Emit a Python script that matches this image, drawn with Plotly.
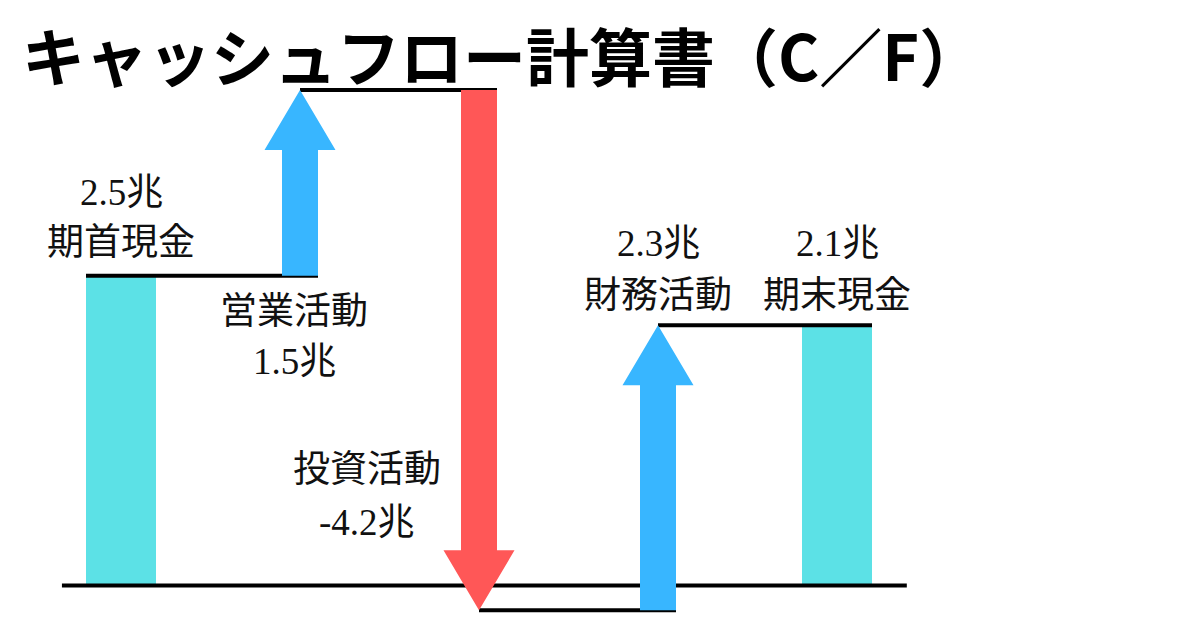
import plotly.graph_objects as go

# ---------------- data ----------------
steps = ["期首現金", "営業活動", "投資活動", "財務活動", "期末現金"]
values = [2.5, 1.5, -4.2, 2.3, 2.1]
kinds = ["total", "delta", "delta", "delta", "total"]
value_labels = ["2.5兆", "1.5兆", "-4.2兆", "2.3兆", "2.1兆"]
title_text = "キャッシュフロー計算書（C／F）"

# ---------------- styles ----------------
PX_X = 179.0      # px per category step (used to convert pixel sizes)
PX_Y = 123.9      # px per unit value
BAR_W = 70 / PX_X
SHAFT_HW = 18 / PX_X
HEAD_HW = 35.5 / PX_X
HEAD_LEN = 60 / PX_Y
C_TOTAL = "#5CE1E6"
C_UP = "#38B6FF"
C_DOWN = "#FF5757"
LINE_W = 4
LABEL_FONT = dict(family="Liberation Serif, Noto Sans CJK JP", size=37, color="#111111")

# compute start/end of each step
starts, ends = [], []
level = 0.0
for v, k in zip(values, kinds):
    if k == "total":
        s, e = 0.0, v
    else:
        s, e = level, level + v
    starts.append(s)
    ends.append(e)
    level = e

xs = list(range(len(steps)))
fig = go.Figure()

# baseline
fig.add_trace(go.Scatter(x=[xs[0] - 0.33, xs[-1] + 0.39], y=[0, 0], mode="lines",
                         line=dict(color="black", width=LINE_W), hoverinfo="skip"))

# connector lines
for i in range(len(steps) - 1):
    x0 = xs[i] - BAR_W / 2 if kinds[i] == "total" else xs[i]
    x1 = xs[i + 1] + (BAR_W / 2 if kinds[i + 1] == "total" else SHAFT_HW)
    fig.add_trace(go.Scatter(x=[x0, x1], y=[ends[i], ends[i]], mode="lines",
                             line=dict(color="black", width=LINE_W), hoverinfo="skip"))

# total bars
tot_idx = [i for i, k in enumerate(kinds) if k == "total"]
fig.add_trace(go.Bar(x=[xs[i] for i in tot_idx], y=[ends[i] - starts[i] for i in tot_idx],
                     base=[starts[i] for i in tot_idx], width=BAR_W,
                     marker=dict(color=C_TOTAL, line=dict(width=0)), hoverinfo="skip"))

# arrows
for i, k in enumerate(kinds):
    if k != "delta":
        continue
    c, a, b = xs[i], starts[i], ends[i]
    d = 1 if b > a else -1
    hb = b - d * HEAD_LEN
    px = [c - SHAFT_HW, c + SHAFT_HW, c + SHAFT_HW, c + HEAD_HW, c, c - HEAD_HW, c - SHAFT_HW, c - SHAFT_HW]
    py = [a, a, hb, hb, b, hb, hb, a]
    fig.add_trace(go.Scatter(x=px, y=py, mode="lines", fill="toself",
                             fillcolor=C_UP if d > 0 else C_DOWN,
                             line=dict(width=0, color=C_UP if d > 0 else C_DOWN),
                             hoverinfo="skip"))

# labels: (anchor level, x shift px, name y offset px down, value y offset px down)
label_pos = [
    (ends[0], 0, -33, -83),
    (starts[1], -6, 36, 86),
    (ends[2], -112, -141, -88),
    (ends[3], 0, -30, -82),
    (ends[4], 0, -30, -82),
]
for i, (lv, dx, dn, dv) in enumerate(label_pos):
    fig.add_annotation(x=xs[i], y=lv, xref="x", yref="y", text=steps[i], showarrow=False,
                       xshift=dx, yshift=-dn, font=LABEL_FONT, xanchor="center", yanchor="middle")
    fig.add_annotation(x=xs[i], y=lv, xref="x", yref="y", text=value_labels[i], showarrow=False,
                       xshift=dx, yshift=-dv, font=LABEL_FONT, xanchor="center", yanchor="middle")

# title
fig.add_annotation(x=20 / 1200, y=1 - 54 / 628, xref="paper", yref="paper", text=title_text,
                   showarrow=False, xanchor="left", yanchor="middle",
                   font=dict(family="Noto Sans CJK JP", size=63, color="black", weight="bold"))

fig.update_layout(
    width=1200, height=628, margin=dict(l=0, r=0, t=0, b=0),
    paper_bgcolor="white", plot_bgcolor="white", showlegend=False,
    xaxis=dict(range=[2 - 479 / PX_X, 2 + (1200 - 479) / PX_X], visible=False, fixedrange=True),
    yaxis=dict(range=[(585.5 - 628) / PX_Y, 585.5 / PX_Y], visible=False, fixedrange=True),
)

fig.write_html("out.html")
